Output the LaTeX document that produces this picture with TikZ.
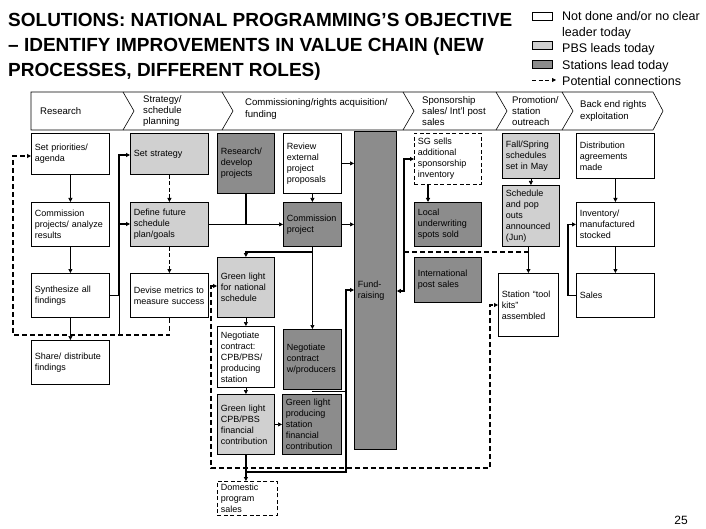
\documentclass[tikz,border=0pt]{standalone}
\usepackage{fontspec}
\setmainfont{Liberation Sans}
\usetikzlibrary{arrows.meta}
\definecolor{lightg}{RGB}{208,208,208}
\definecolor{darkg}{RGB}{140,140,140}
\hyphenpenalty=10000
\exhyphenpenalty=10000
\newcommand\mkbox[7]{%
  \pgfmathsetmacro\bxW{#4-#2}%
  \pgfmathsetmacro\bxH{#5-#3}%
  \pgfmathsetmacro\bxT{#4-#2-7}%
  \node[#6, anchor=north west, minimum width=\bxW pt, minimum height=\bxH pt, text width=\bxT pt] (#1) at (#2,#3) {#7};}
\begin{document}
\begin{tikzpicture}[x=1pt,y=-1pt,
  box/.style={draw, line width=0.8pt, font=\fontsize{9}{11}\selectfont, align=left, inner xsep=3.5pt, inner ysep=1pt},
  wbox/.style={box, fill=white},
  lbox/.style={box, fill=lightg},
  gbox/.style={box, fill=darkg},
  dbox/.style={box, fill=white, dash pattern=on 4pt off 2.5pt},
  hdr/.style={font=\fontsize{9.6}{11.3}\selectfont, align=left, anchor=west, inner sep=0},
  legt/.style={font=\fontsize{12.5}{16.5}\selectfont, align=left, inner sep=0},
  thinc/.style={line width=0.7pt},
  thickc/.style={line width=1.6pt},
  dashc/.style={line width=1.3pt, dash pattern=on 5pt off 3pt},
  dashs/.style={line width=0.8pt, dash pattern=on 4pt off 2.5pt},
  arr/.style={-{Triangle[length=4pt,width=4pt]}},
  arrb/.style={{Triangle[length=4pt,width=4pt]}-{Triangle[length=4pt,width=4pt]}}
]
\useasboundingbox[fill=white] (0,0) rectangle (706,529);

% title
\node[font=\bfseries\fontsize{19}{24.7}\selectfont, align=left, anchor=north west, inner sep=0] (title) at (8,13.5)
  {SOLUTIONS: NATIONAL PROGRAMMING’S OBJECTIVE\\– IDENTIFY IMPROVEMENTS IN VALUE CHAIN (NEW\\PROCESSES, DIFFERENT ROLES)};

% legend
\node[draw, line width=0.8pt, fill=white, anchor=north west, minimum width=20pt, minimum height=8pt, inner sep=0] (lg1) at (532,12) {};
\node[draw, line width=0.8pt, fill=lightg, anchor=north west, minimum width=20pt, minimum height=8pt, inner sep=0] (lg2) at (532,41) {};
\node[draw, line width=0.8pt, fill=darkg, anchor=north west, minimum width=20pt, minimum height=8pt, inner sep=0] (lg3) at (532,60) {};
\coordinate (la) at (532,80);
\coordinate (lb) at (556,80);
\draw[dashs, arr] (la) -- (lb);
\node[legt, anchor=north west] (lt1) at (562,11) {Not done and/or no clear\\leader today};
\node[legt, anchor=base west] (lt2) at (562,53) {PBS leads today};
\node[legt, anchor=base west] (lt3) at (562,70) {Stations lead today};
\node[legt, anchor=base west] (lt4) at (562,86) {Potential connections};

% header band
\draw[line width=0.6pt] (31,92) -- (653,92) -- (663,111) -- (653,130) -- (31,130) -- cycle;
\foreach \sx in {123,222,403,496,562} \draw[line width=0.6pt] (\sx,92) -- (\sx+11,111) -- (\sx,130);
\node[hdr] (h1) at (40,111) {Research};
\node[hdr] (h2) at (143,111) {Strategy/\\schedule\\planning};
\node[hdr] (h3) at (245,109) {Commissioning/rights acquisition/\\funding};
\node[hdr] (h4) at (422,111) {Sponsorship\\sales/ Int’l post\\sales};
\node[hdr] (h5) at (512,111) {Promotion/\\station\\outreach};
\node[hdr] (h6) at (580,111) {Back end rights\\exploitation};

% boxes
\mkbox{sp}{31}{133}{109}{174}{wbox}{Set priorities/\\agenda}
\mkbox{cp}{31}{202}{109}{246}{wbox}{Commission\\projects/ analyze\\results}
\mkbox{sy}{31}{273}{109}{317}{wbox}{Synthesize all\\findings}
\mkbox{sh}{31}{340}{109}{384}{wbox}{Share/ distribute\\findings}
\mkbox{ss}{130}{133}{208}{174}{lbox}{Set strategy}
\mkbox{df}{130}{202}{208}{246}{lbox}{Define future\\schedule\\plan/goals}
\mkbox{dm}{130}{273}{208}{317}{wbox}{Devise metrics to\\measure success}
\mkbox{rd}{217}{133}{274}{193}{gbox}{Research/\\develop\\projects}
\mkbox{gn}{217}{257}{274}{317}{lbox}{Green light\\for national\\schedule}
\mkbox{nc}{217}{326}{274}{387}{wbox}{Negotiate\\contract:\\CPB/PBS/\\producing\\station}
\mkbox{gc}{217}{394}{274}{454}{lbox}{Green light\\CPB/PBS\\financial\\contribution}
\mkbox{ds}{217}{481}{277}{515}{dbox}{Domestic\\program\\sales}
\mkbox{re}{283}{133}{341}{193}{wbox}{Review\\external\\project\\proposals}
\mkbox{cm}{283}{202}{341}{246}{gbox}{Commission\\project}
\mkbox{nw}{283}{329}{341}{389}{gbox}{Negotiate\\contract\\w/producers}
\mkbox{gp}{282}{394}{341}{454}{gbox}{Green light\\producing\\station\\financial\\contribution}
\mkbox{fr}{354}{131}{396}{449}{gbox}{Fund-\\raising}
\mkbox{sg}{414}{133}{481}{184}{dbox}{SG sells\\additional\\sponsorship\\inventory}
\mkbox{lu}{414}{202}{481}{246}{gbox}{Local\\underwriting\\spots sold}
\mkbox{ip}{414}{257}{481}{302}{gbox}{International\\post sales}
\mkbox{fs}{502}{133}{559}{178}{lbox}{Fall/Spring\\schedules\\set in May}
\mkbox{so}{502}{185}{559}{246}{lbox}{Schedule\\and pop\\outs\\announced\\(Jun)}
\mkbox{tk}{498}{273}{558}{336}{wbox}{Station “tool\\kits”\\assembled}
\mkbox{da}{576}{133}{654}{178}{wbox}{Distribution\\agreements\\made}
\mkbox{in}{576}{202}{654}{246}{wbox}{Inventory/\\manufactured\\stocked}
\mkbox{sa}{576}{273}{654}{317}{wbox}{Sales}

% page number
\node[font=\fontsize{12}{14}\selectfont, anchor=base east, inner sep=0] (pg) at (688,524) {25};

% connectors: research column
\draw[thinc,arr] (sp.south) -- (cp.north);
\draw[thinc,arr] (cp.south) -- (sy.north);
\draw[thinc,arr] (sy.south) -- (sh.north);
\draw[dashc,arr] (dm.south) -- (dm.south |- 0,335) -- (13,335) -- (13,156) -- (sp.west |- 0,156);
\draw[thickc] (sy.east) -- (119,0 |- sy.east) coordinate (j1);
\draw[thickc,arr] (j1) -- (119,155) -- (ss.west |- 0,155);
\draw[thickc,arr] (119,224) -- (df.west |- 0,224);
\draw[thinc] (j1) -- (119,335);

% strategy column
\draw[dashs,arr] (ss.south) -- (df.north);
\draw[dashs,arr] (df.south) -- (dm.north);
\draw[thinc,arr] (df.east) -- (cm.west);
\draw[thickc] (rd.south) -- (rd.south |- df.east);

% commissioning
\draw[thinc,arr] (re.south) -- (cm.north);
\draw[thinc,arr] (re.east) -- (fr.west |- re.east);
\draw[thinc,arr] (cm.east) -- (fr.west |- cm.east);
\draw[thickc,arr] (cm.south) -- (cm.south |- 0,252) -- (gn.north |- 0,252) -- (gn.north);
\draw[thinc,arr] (cm.south |- 0,252) -- (nw.north);
\draw[thinc,arr] (gn.south) -- (nc.north);
\draw[thinc,arr] (nc.south) -- (gc.north);
\draw[thinc,arr] (gc.east) -- (gp.west |- gc.east);
\draw[thickc,arr] (gc.south) -- (gc.south |- ds.north);
\draw[thickc,arr] (gc.south |- 0,472) -- (346,472) -- (346,290) -- (fr.west |- 0,290);
\draw[thickc] (nw.south |- 0,391.5) -- (346,391.5);
\draw[dashc,arrb] (gn.west |- 0,286) -- (211,286) -- (211,468) -- (490,468) -- (490,305) -- (tk.west |- 0,305);

% sponsorship / promotion
\draw[thickc,arrb] (sg.west |- 0,159) -- (404,159) -- (404,291) -- (fr.east |- 0,291);
\draw[dashc] (404,252) -- (528,252);
\draw[thickc,arr] (428,0 |- sg.south) -- (428,0 |- lu.north);
\draw[thinc,arr] (fs.south) -- (so.north);
\draw[thickc,arr] (tk.north |- so.south) -- (tk.north);

% back end
\draw[thickc,arr] (da.south) -- (in.north);
\draw[thickc,arr] (in.south) -- (sa.north);
\draw[thickc,arr] (sa.west) -- (568,0 |- sa.west) -- (568,0 |- in.west) -- (in.west);
\end{tikzpicture}
\end{document}
